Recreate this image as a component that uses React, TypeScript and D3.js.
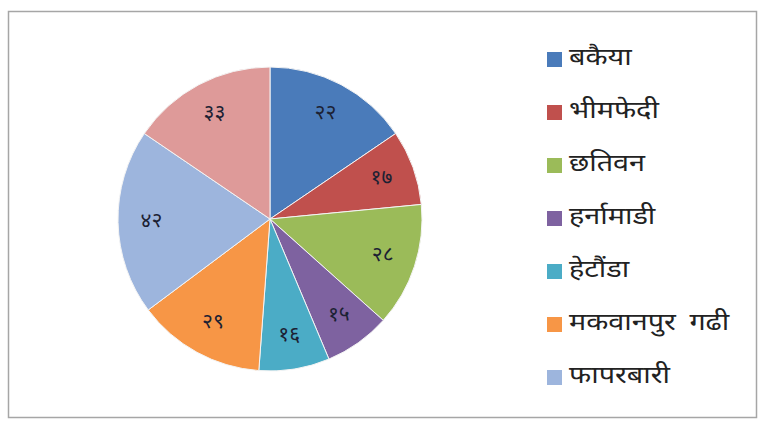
import { useEffect, useRef } from "react";
import * as d3 from "d3";

const categories = [
  "बकैया",
  "भीमफेदी",
  "छतिवन",
  "हर्नामाडी",
  "हेटौंडा",
  "मकवानपुर गढी",
  "फापरबारी",
  "अन्य",
];
const values = [33, 17, 28, 15, 16, 29, 42, 33];
const sliceLabels = ["२२", "१७", "२८", "१५", "१६", "२९", "४२", "३३"];
const colors = [
  "#4A7BBA",
  "#C0504D",
  "#9BBB59",
  "#7E62A0",
  "#4BACC6",
  "#F79646",
  "#9DB5DD",
  "#DE9A99",
];

const devFont = "'Noto Sans Devanagari', 'Lohit Devanagari', 'Mangal', sans-serif";

export default function App() {
  const svgRef = useRef<SVGSVGElement>(null);
  const width = 762;
  const height = 421;

  useEffect(() => {
    const svg = d3.select(svgRef.current);
    svg.selectAll("*").remove();

    // chart frame
    svg
      .append("rect")
      .attr("x", 8.5)
      .attr("y", 11.5)
      .attr("width", 748)
      .attr("height", 406)
      .attr("fill", "#fff")
      .attr("stroke", "#A6A6A6")
      .attr("stroke-width", 1.5);

    const cx = 270;
    const cy = 219;
    const r = 152;

    const rows = categories.map((c, i) => ({ name: c, value: values[i], label: sliceLabels[i], i }));
    const pie = d3
      .pie<any>()
      .value((d) => d.value)
      .sort(null);
    const arcs = pie(rows);

    const arc = d3.arc<any>().innerRadius(0).outerRadius(r);
    const labelArc = d3.arc<any>().innerRadius(r * 0.78).outerRadius(r * 0.78);

    const g = svg.append("g").attr("transform", `translate(${cx},${cy})`);

    g.selectAll("path")
      .data(arcs)
      .join("path")
      .attr("d", arc)
      .attr("fill", (d) => colors[d.data.i])
      .attr("stroke", "#f4f4f4")
      .attr("stroke-width", 1);

    g.selectAll("text")
      .data(arcs)
      .join("text")
      .attr("transform", (d) => `translate(${labelArc.centroid(d)})`)
      .attr("text-anchor", "middle")
      .attr("dominant-baseline", "central")
      .attr("font-family", devFont)
      .attr("font-size", 21)
      .attr("fill", "#1c2133")
      .text((d) => d.data.label);

    // legend (the last entry falls below the frame in the original, so only the ones that fit are drawn)
    const ly = d3
      .scalePoint<string>()
      .domain(categories)
      .range([59, 59 + 53 * (categories.length - 1)]);

    const leg = svg
      .append("g")
      .selectAll("g")
      .data(rows.filter((d) => (ly(d.name) as number) < 400))
      .join("g")
      .attr("transform", (d) => `translate(547,${ly(d.name)})`);

    leg
      .append("rect")
      .attr("x", 0)
      .attr("y", -7)
      .attr("width", 15)
      .attr("height", 15)
      .attr("fill", (d) => colors[d.i]);

    leg
      .append("text")
      .attr("transform", "translate(22,0) scale(1.2,1)")
      .attr("dominant-baseline", "central")
      .attr("font-family", devFont)
      .attr("font-size", 24)
      .attr("word-spacing", 5)
      .attr("fill", "#222")
      .text((d) => d.name);
  }, []);

  return (
    <div style={{ position: "fixed", left: 0, top: 0, width, height, background: "#fff" }}>
      <svg ref={svgRef} width={width} height={height}></svg>
    </div>
  );
}
